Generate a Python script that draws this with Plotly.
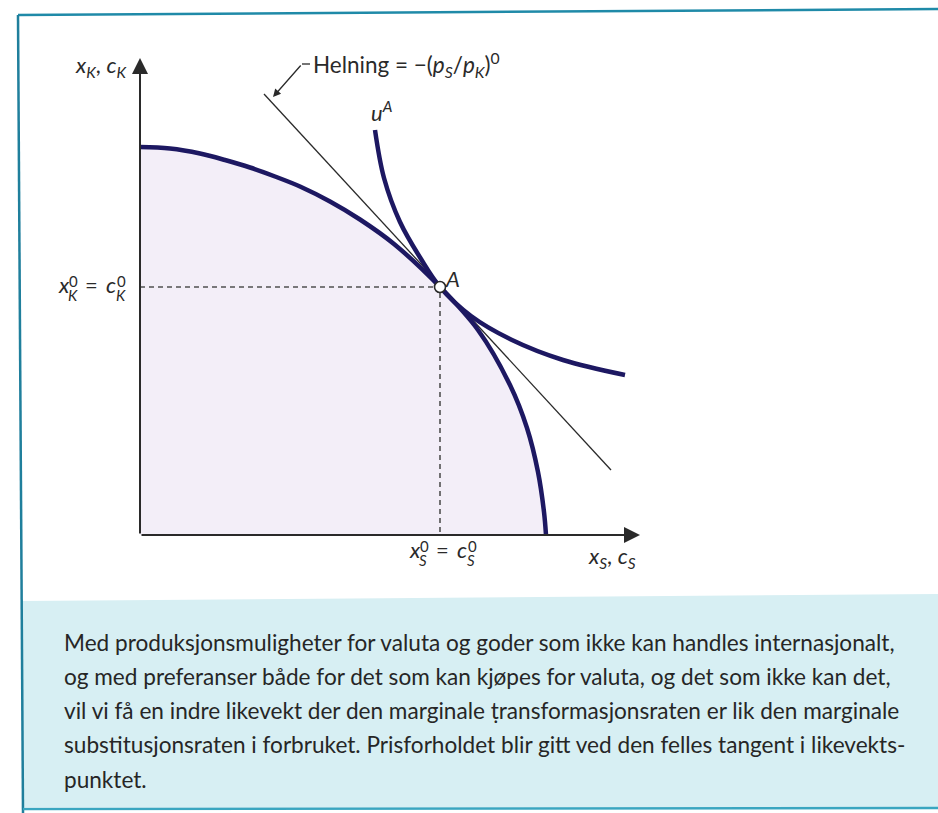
import plotly.graph_objects as go

# Production possibility frontier: x_S (horizontal) against x_K (vertical)
ppf_s = [0.0, 0.6, 1.2, 1.7, 2.2, 2.7, 3.2, 3.8, 4.4, 5.08, 6.0, 6.76, 7.4, 7.74, 7.96, 8.08, 8.12]
ppf_k = [7.76, 7.73, 7.63, 7.5, 7.35, 7.17, 6.97, 6.67, 6.31, 5.82, 4.96, 4.1, 3.0, 2.14, 1.26, 0.46, 0.0]

# Indifference curve u^A
ind_s = [4.7, 4.88, 5.2, 5.62, 6.0, 6.62, 7.44, 8.46, 9.7]
ind_k = [8.1, 7.14, 6.26, 5.52, 4.96, 4.38, 3.9, 3.5, 3.2]

# Common tangent (relative price line) through A
tan_s = [2.48, 9.42]
tan_k = [8.82, 1.3]

# Equilibrium point A
a_s, a_k = 6.0, 4.96

# Axis extents (arrow tips)
axis_s_max, axis_k_max = 10.0, 9.54

caption_lines = [
    "Med produksjonsmuligheter for valuta og goder som ikke kan handles internasjonalt,",
    "og med preferanser både for det som kan kjøpes for valuta, og det som ikke kan det,",
    "vil vi få en indre likevekt der den marginale ṭransformasjonsraten er lik den marginale",
    "substitusjonsraten i forbruket. Prisforholdet blir gitt ved den felles tangent i likevekts-",
    "punktet.",
]

W, H = 938, 813
NAVY = "#1d1862"
INK = "#2a2a2a"
FONT = "Lato"

fig = go.Figure()

# shaded production set
fig.add_trace(go.Scatter(x=ppf_s, y=ppf_k, mode="lines",
                         line=dict(width=0, shape="spline", smoothing=1.0),
                         fill="tozeroy", fillcolor="#f3eef8", hoverinfo="skip"))
# dashed guides to the axes
fig.add_trace(go.Scatter(x=[0, a_s, a_s], y=[a_k, a_k, 0], mode="lines",
                         line=dict(color="#505050", width=1.6, dash="5px,4px")))
# price line
fig.add_trace(go.Scatter(x=tan_s, y=tan_k, mode="lines", line=dict(color=INK, width=1.3)))
# frontier and indifference curve
fig.add_trace(go.Scatter(x=ppf_s, y=ppf_k, mode="lines",
                         line=dict(color=NAVY, width=4.5, shape="spline", smoothing=1.0)))
fig.add_trace(go.Scatter(x=ind_s, y=ind_k, mode="lines",
                         line=dict(color=NAVY, width=4.5, shape="spline", smoothing=1.0)))
# point A
fig.add_trace(go.Scatter(x=[a_s], y=[a_k], mode="markers",
                         marker=dict(size=11, color="white", line=dict(color=INK, width=1.6))))

ann = []
# axes with arrow heads
for tip, tail in [((0, axis_k_max), (0, 0)), ((axis_s_max, 0), (0, 0))]:
    ann.append(dict(x=tip[0], y=tip[1], ax=tail[0], ay=tail[1], xref="x", yref="y",
                    axref="x", ayref="y", text="", showarrow=True, arrowhead=2,
                    arrowsize=1.6, arrowwidth=2, arrowcolor=INK))

# leader arrow for the slope label
lead_x0, lead_x1, lead_y = tan_s[0] + 0.92, tan_s[0] + 0.76, tan_k[0] + 0.6
fig.add_shape(type="line", x0=lead_x0, y0=lead_y, x1=lead_x1, y1=lead_y,
              line=dict(color=INK, width=1.3))
ann.append(dict(x=tan_s[0] + 0.18, y=tan_k[0] - 0.06, ax=lead_x1, ay=lead_y, xref="x", yref="y",
                axref="x", ayref="y", text="", showarrow=True, arrowhead=2,
                arrowsize=1.2, arrowwidth=1.3, arrowcolor=INK))


def txt(x, y, s, size=21, xanchor="left", yanchor="middle", xs=0, ys=0, **kw):
    d = dict(x=x, y=y, text=s, showarrow=False, xanchor=xanchor, yanchor=yanchor,
             xshift=xs, yshift=ys, font=dict(family=FONT, size=size, color=INK))
    d.update(kw)
    ann.append(d)


def stacked(x, y, xs0, ys0, base1, idx1, base2, idx2):
    """Draw  base1^0_idx1 = base2^0_idx2  with stacked super/subscripts.

    xs0 / ys0: pixel offset of the label's left edge / x-height centre from (x, y)."""
    pieces = [
        (f"<i>{base1}</i>", 0, 3, 22),
        ("0", 11, 6.5, 15),
        (f"<i>{idx1}</i>", 10, -8, 15),
        ("=", 27, 3, 22),
        (f"<i>{base2}</i>", 48, 3, 22),
        ("0", 59, 6.5, 15),
        (f"<i>{idx2}</i>", 58, -8, 15),
    ]
    for s, dx, dy, size in pieces:
        txt(x, y, s, size=size, xs=xs0 + dx, ys=ys0 + dy)


txt(lead_x0, lead_y, "Helning = −(<i>p</i><sub><i>S</i></sub>/<i>p</i><sub><i>K</i></sub>)<sup>0</sup>",
    xs=1, size=22.5)
txt(0, axis_k_max, "<i>x</i><sub><i>K</i></sub>, <i>c</i><sub><i>K</i></sub>",
    xanchor="right", xs=-11, ys=-8, size=22)
txt(ind_s[0], ind_k[0], "<i>u</i><sup><i>A</i></sup>", xs=-6, yanchor="bottom", ys=2, size=22)
txt(a_s, a_k, "<i>A</i>", xs=3, ys=9, size=22)

# x_K^0 = c_K^0 next to the vertical axis, x_S^0 = c_S^0 under the horizontal axis
stacked(0, a_k, -84, 0, "x", "K", "c", "K")
stacked(a_s, 0, -33, -17, "x", "S", "c", "S")

txt(axis_s_max, 0, "<i>x</i><sub><i>S</i></sub>, <i>c</i><sub><i>S</i></sub>",
    xanchor="right", yanchor="top", xs=-2, ys=-5, size=22)


# caption box
def px(x):
    return x / W


def py(y):
    return 1 - y / H


fig.add_shape(type="path", xref="paper", yref="paper",
              path=f"M {px(22)},{py(601)} L {px(938)},{py(594)} L {px(938)},{py(807)} "
                   f"L {px(22)},{py(807)} Z",
              fillcolor="#d7eff3", line=dict(width=0), layer="below")
# frame
fig.add_shape(type="line", xref="paper", yref="paper", x0=px(18), y0=py(15), x1=px(938), y1=py(9),
              line=dict(color="#1f8aa8", width=2.5))
fig.add_shape(type="line", xref="paper", yref="paper", x0=px(18), y0=py(15), x1=px(23), y1=py(813),
              line=dict(color="#1f7f9c", width=2.5))
fig.add_shape(type="line", xref="paper", yref="paper", x0=px(23), y0=py(809), x1=px(938), y1=py(808),
              line=dict(color="#3aa6c0", width=2.5))

for i, line in enumerate(caption_lines):
    ann.append(dict(x=px(62), y=py(642 + 34.3 * i), xref="paper", yref="paper", text=line,
                    showarrow=False, xanchor="left", yanchor="middle",
                    font=dict(family=FONT, size=22.6, color="#262626")))

fig.update_layout(
    width=W, height=H, margin=dict(l=0, r=0, t=0, b=0),
    paper_bgcolor="white", plot_bgcolor="rgba(0,0,0,0)", showlegend=False,
    xaxis=dict(range=[-140 / 50, (W - 140) / 50], visible=False, fixedrange=True),
    yaxis=dict(range=[-(H - 535) / 50, 535 / 50], visible=False, fixedrange=True),
    annotations=ann,
)

fig.write_html("out.html")
